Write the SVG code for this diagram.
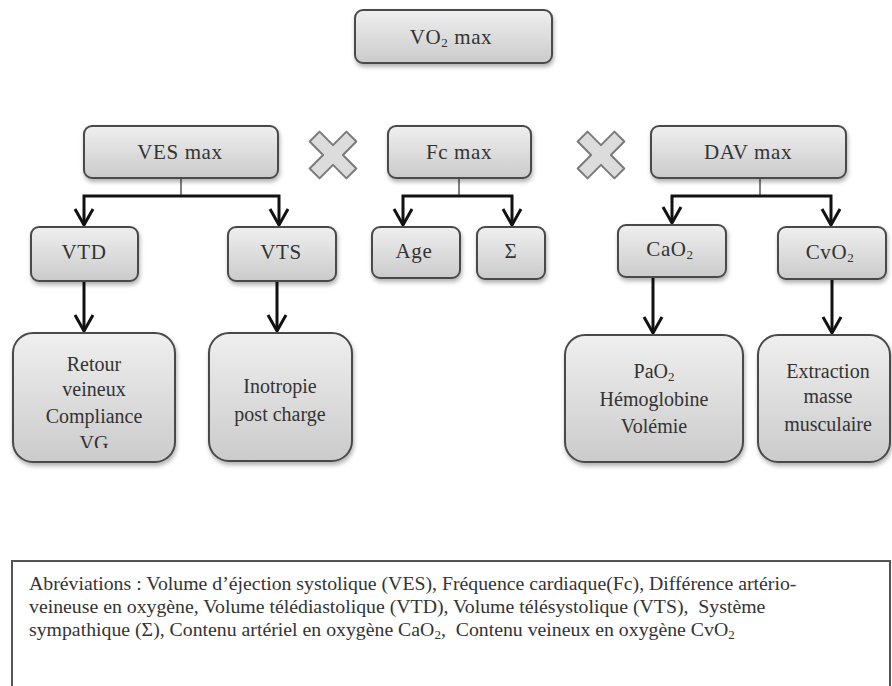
<svg xmlns="http://www.w3.org/2000/svg" width="892" height="686" viewBox="0 0 892 686">
<style>
.box{fill:url(#g);stroke:#4a4a4a;stroke-width:2;filter:url(#sh)}
.t{font-family:"Liberation Serif","Times New Roman",serif;font-size:21px;letter-spacing:0.6px;fill:#333;text-anchor:middle}
.tb{font-family:"Liberation Serif","Times New Roman",serif;font-size:20px;fill:#333;text-anchor:middle}
.ab{font-family:"Liberation Serif","Times New Roman",serif;font-size:19.8px;fill:#333;white-space:pre}
.stub{stroke:#555;stroke-width:1.5;fill:none}
.ln{stroke:#111;stroke-width:3;fill:none}
.cross{fill:#dcdcdc;stroke:#7a7a7a;stroke-width:2;stroke-linejoin:round}
</style>
<defs>
<linearGradient id="g" x1="0" y1="0" x2="0" y2="1">
<stop offset="0" stop-color="#efefef"/>
<stop offset="1" stop-color="#cbcbcb"/>
</linearGradient>
<filter id="sh" x="-10%" y="-10%" width="130%" height="140%">
<feDropShadow dx="1" dy="3" stdDeviation="2" flood-color="#000" flood-opacity="0.3"/>
</filter>
<marker id="ah" markerUnits="userSpaceOnUse" markerWidth="24" markerHeight="24" refX="19" refY="12" orient="auto-start-reverse" viewBox="0 0 24 24">
<path d="M3,3 L19,12 L3,21" fill="none" stroke="#111" stroke-width="3"/>
</marker>
<clipPath id="clipR"><rect x="13" y="333" width="162" height="115"/></clipPath>
</defs>
<rect width="892" height="686" fill="#fff"/>

<g id="connectors">
<line class="stub" x1="181" y1="178" x2="181" y2="196"/>
<path class="ln" d="M84,225 L84,196 L279,196 L279,225" marker-start="url(#ah)" marker-end="url(#ah)"/>
<line class="stub" x1="459" y1="178" x2="459" y2="196"/>
<path class="ln" d="M403,225 L403,196 L512,196 L512,225" marker-start="url(#ah)" marker-end="url(#ah)"/>
<line class="stub" x1="760" y1="178" x2="760" y2="196"/>
<path class="ln" d="M672,223 L672,196 L831,196 L831,225" marker-start="url(#ah)" marker-end="url(#ah)"/>
<line class="ln" x1="84" y1="281" x2="84" y2="331" marker-end="url(#ah)"/>
<line class="ln" x1="277" y1="281" x2="277" y2="331" marker-end="url(#ah)"/>
<line class="ln" x1="653" y1="277" x2="653" y2="333" marker-end="url(#ah)"/>
<line class="ln" x1="832" y1="279" x2="832" y2="333" marker-end="url(#ah)"/>
</g>

<g id="cross1"><polygon class="cross" transform="translate(333,155) rotate(45)" points="-7,-26 7,-26 7,-7 26,-7 26,7 7,7 7,26 -7,26 -7,7 -26,7 -26,-7 -7,-7"/></g>
<g id="cross2"><polygon class="cross" transform="translate(601,155) rotate(45)" points="-7,-26 7,-26 7,-7 26,-7 26,7 7,7 7,26 -7,26 -7,7 -26,7 -26,-7 -7,-7"/></g>

<g id="vo2max"><rect class="box" x="355" y="10" width="197" height="53" rx="8"/><text class="t" x="451" y="44">VO<tspan font-size="13" dy="3">2</tspan><tspan dy="-3"> max</tspan></text></g>
<g id="vesmax"><rect class="box" x="84" y="126" width="194" height="52" rx="8"/><text class="t" x="180" y="159">VES max</text></g>
<g id="fcmax"><rect class="box" x="388" y="126" width="143" height="52" rx="8"/><text class="t" x="459" y="159">Fc max</text></g>
<g id="davmax"><rect class="box" x="651" y="126" width="195" height="52" rx="8"/><text class="t" x="748" y="159">DAV max</text></g>
<g id="vtd"><rect class="box" x="31" y="227" width="107" height="54" rx="8"/><text class="t" x="84" y="259">VTD</text></g>
<g id="vts"><rect class="box" x="228" y="227" width="108" height="54" rx="8"/><text class="t" x="281" y="259">VTS</text></g>
<g id="age"><rect class="box" x="372" y="227" width="88" height="51" rx="8"/><text class="t" x="414" y="258">Age</text></g>
<g id="sigma"><rect class="box" x="477" y="227" width="68" height="52" rx="8"/><text class="t" x="511" y="258" font-size="15">Σ</text></g>
<g id="cao2"><rect class="box" x="618" y="225" width="108" height="52" rx="8"/><text class="t" x="670" y="256">CaO<tspan font-size="13" dy="3">2</tspan></text></g>
<g id="cvo2"><rect class="box" x="778" y="227" width="108" height="52" rx="8"/><text class="t" x="830" y="259">CvO<tspan font-size="13" dy="3">2</tspan></text></g>

<g id="retour"><rect class="box" x="13" y="333" width="162" height="129" rx="20"/>
<g clip-path="url(#clipR)"><text class="tb" x="94" y="371">Retour</text><text class="tb" x="94" y="396">veineux</text><text class="tb" x="94" y="423">Compliance</text><text class="tb" x="94" y="450">VG</text></g></g>
<g id="inotropie"><rect class="box" x="209" y="333" width="143" height="128" rx="20"/><text class="tb" x="280" y="393">Inotropie</text><text class="tb" x="280" y="421">post charge</text></g>
<g id="pao2"><rect class="box" x="565" y="335" width="178" height="127" rx="20"/><text class="tb" x="654" y="378">PaO<tspan font-size="13" dy="3">2</tspan></text><text class="tb" x="654" y="406">Hémoglobine</text><text class="tb" x="654" y="433">Volémie</text></g>
<g id="extraction"><rect class="box" x="758" y="335" width="132" height="127" rx="20"/><text class="tb" x="828" y="378">Extraction</text><text class="tb" x="828" y="403">masse</text><text class="tb" x="828" y="431">musculaire</text></g>

<g id="abreviations">
<rect x="12" y="561" width="878" height="150" fill="#fff" stroke="#555" stroke-width="2"/>
<text class="ab" x="29" y="590">Abréviations : Volume d’éjection systolique (VES), Fréquence cardiaque(Fc), Différence artério-</text>
<text class="ab" x="29" y="613" xml:space="preserve">veineuse en oxygène, Volume télédiastolique (VTD), Volume télésystolique (VTS),  Système</text>
<text class="ab" x="29" y="636" xml:space="preserve">sympathique (Σ), Contenu artériel en oxygène CaO<tspan font-size="13" dy="3">2</tspan><tspan dy="-3">,  Contenu veineux en oxygène CvO</tspan><tspan font-size="13" dy="3">2</tspan></text>
</g>
</svg>
